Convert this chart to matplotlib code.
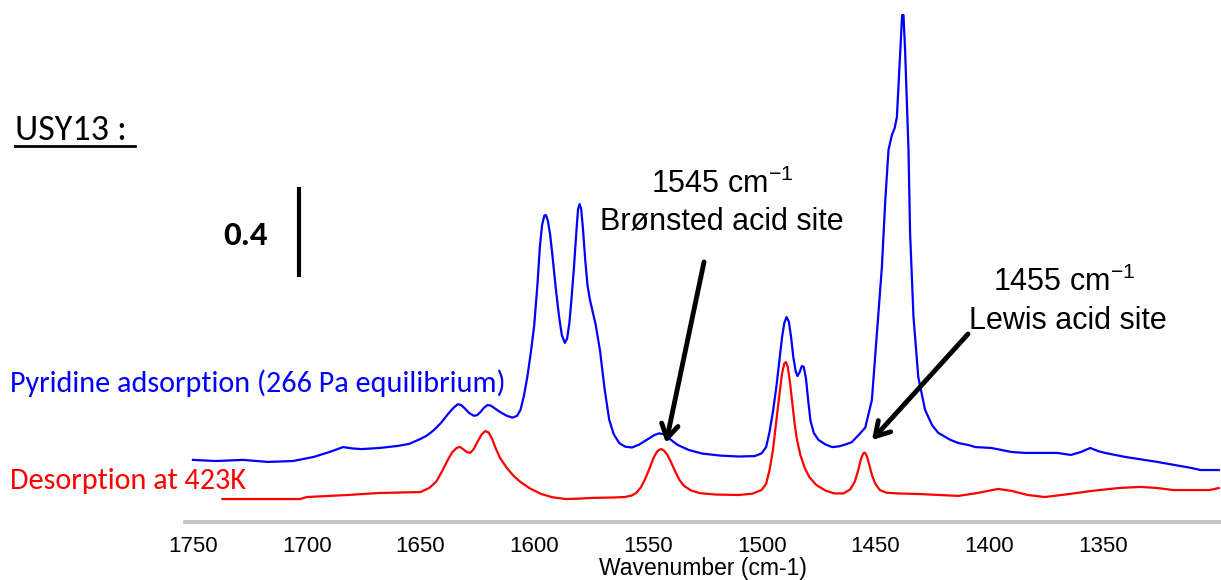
import matplotlib
matplotlib.use("Agg")
import matplotlib.pyplot as plt
from matplotlib.lines import Line2D
from matplotlib.ticker import MultipleLocator
from matplotlib import font_manager

# ---------------- data: (wavenumber cm-1, absorbance) ----------------
blue_spectrum = [
    (1750, 0.276), (1740, 0.271), (1728, 0.276), (1717, 0.267), (1706, 0.271), (1697, 0.289),
    (1690, 0.311), (1684, 0.333), (1680, 0.327), (1676, 0.324), (1668, 0.329), (1660, 0.338),
    (1655, 0.347), (1650, 0.369), (1647, 0.385), (1644, 0.409), (1641, 0.440), (1638, 0.478),
    (1635.5, 0.507), (1633.5, 0.524), (1632, 0.519), (1630.5, 0.505), (1628.5, 0.484),
    (1626.5, 0.472), (1625, 0.475), (1623.5, 0.490), (1622, 0.508), (1620.5, 0.520),
    (1619, 0.517), (1617, 0.503), (1615, 0.489), (1612, 0.472), (1609.5, 0.464),
    (1607.5, 0.472), (1606, 0.498), (1604.5, 0.560), (1603, 0.644), (1601.5, 0.750),
    (1600, 0.870), (1598.5, 1.060), (1597.5, 1.220), (1596.5, 1.320), (1595.5, 1.362),
    (1594.8, 1.364), (1594, 1.340), (1593, 1.280), (1592, 1.190), (1590.5, 1.040),
    (1589, 0.910), (1587.8, 0.830), (1586.5, 0.796), (1585.5, 0.815), (1584.5, 0.884),
    (1583.5, 1.000), (1582.5, 1.130), (1581.5, 1.280), (1580.7, 1.390), (1580, 1.413),
    (1579.3, 1.390), (1578.5, 1.300), (1577.5, 1.160), (1576.5, 1.050), (1575.5, 0.990),
    (1574.5, 0.945), (1573, 0.880), (1571, 0.760), (1569, 0.590), (1567, 0.455),
    (1565, 0.390), (1562.5, 0.350), (1560, 0.335), (1557, 0.331), (1554, 0.343),
    (1550, 0.368), (1547, 0.387), (1545, 0.394), (1543, 0.390), (1540.5, 0.370),
    (1537, 0.343), (1532, 0.320), (1526, 0.304), (1518, 0.295), (1510, 0.291),
    (1503, 0.293), (1500, 0.305), (1498, 0.333), (1496.5, 0.400), (1495, 0.490),
    (1493.5, 0.600), (1492, 0.730), (1491, 0.820), (1490, 0.885), (1489, 0.911),
    (1488, 0.890), (1487, 0.820), (1486, 0.730), (1485, 0.670), (1484.2, 0.649),
    (1483.3, 0.665), (1482.3, 0.693), (1481.5, 0.690), (1480.5, 0.640), (1479.5, 0.540),
    (1478.5, 0.450), (1477, 0.395), (1475, 0.365), (1472, 0.345), (1469, 0.333),
    (1466, 0.336), (1463, 0.345), (1460.3, 0.355), (1457, 0.390), (1454.4, 0.420),
    (1451.5, 0.542), (1449.3, 0.840), (1447.1, 1.133), (1445.6, 1.431), (1444.2, 1.653),
    (1442.7, 1.720), (1441.5, 1.750), (1440.5, 1.800), (1439, 2.098), (1438.2, 2.253),
    (1437.6, 2.253), (1436.9, 2.098), (1435.4, 1.653), (1434.7, 1.284), (1433.2, 0.911),
    (1431.1, 0.644), (1428.1, 0.498), (1425, 0.430), (1422.3, 0.396), (1417, 0.365),
    (1413.5, 0.351), (1409, 0.342), (1406, 0.333), (1399, 0.329), (1390, 0.311),
    (1384, 0.307), (1370, 0.307), (1364, 0.298), (1359.6, 0.311), (1355.5, 0.329),
    (1352, 0.315), (1349, 0.307), (1340, 0.289), (1326, 0.267), (1311, 0.240),
    (1307, 0.231), (1299, 0.231),
]
red_spectrum = [
    (1737, 0.102), (1703, 0.102), (1700, 0.111), (1682, 0.120), (1668, 0.129), (1650, 0.133),
    (1646, 0.152), (1643, 0.180), (1640.5, 0.225), (1638, 0.275), (1636, 0.310),
    (1634, 0.330), (1632.5, 0.333), (1631, 0.322), (1629.5, 0.310), (1628, 0.308),
    (1626.5, 0.325), (1625, 0.355), (1623, 0.390), (1621.5, 0.404), (1620, 0.398),
    (1618.5, 0.370), (1617, 0.330), (1615, 0.285), (1612, 0.240), (1609, 0.205),
    (1606, 0.178), (1602, 0.150), (1597, 0.125), (1592, 0.110), (1586, 0.102),
    (1580, 0.104), (1575, 0.107), (1565, 0.109), (1560, 0.111), (1557, 0.118),
    (1555, 0.130), (1553, 0.155), (1551, 0.195), (1549, 0.245), (1547.5, 0.285),
    (1546, 0.312), (1545, 0.321), (1544, 0.324), (1543, 0.318), (1541.5, 0.300),
    (1540, 0.270), (1538, 0.225), (1536, 0.185), (1534, 0.160), (1531, 0.140),
    (1527, 0.128), (1520, 0.122), (1510, 0.120), (1504, 0.126), (1500, 0.142),
    (1498, 0.170), (1496.5, 0.230), (1495, 0.320), (1493.5, 0.450), (1492, 0.580),
    (1491, 0.660), (1490, 0.705), (1489.3, 0.711), (1488.5, 0.690), (1487.5, 0.620),
    (1486.5, 0.530), (1485.5, 0.440), (1484.5, 0.370), (1483, 0.300), (1481, 0.240),
    (1479, 0.200), (1476, 0.165), (1472, 0.140), (1468, 0.127), (1464, 0.127),
    (1461, 0.145), (1459, 0.180), (1457.5, 0.230), (1456.3, 0.280), (1455.3, 0.305),
    (1454.6, 0.308), (1453.8, 0.295), (1452.8, 0.260), (1451.5, 0.210), (1450, 0.170),
    (1448, 0.142), (1445, 0.130), (1440, 0.127), (1430, 0.124), (1413.5, 0.116),
    (1405, 0.129), (1396, 0.147), (1390, 0.138), (1383, 0.120), (1375.5, 0.111),
    (1365, 0.124), (1355, 0.138), (1343, 0.151), (1333.5, 0.156), (1326, 0.151),
    (1319, 0.142), (1303, 0.142), (1299, 0.151),
]

major_ticks = [1750, 1700, 1650, 1600, 1550, 1500, 1450, 1400, 1350]
x_label = "Wavenumber (cm-1)"
blue_label = "Pyridine adsorption (266 Pa equilibrium)"
red_label = "Desorption at 423K"
title_text = "USY13 :"
scale_value = 0.4
bronsted_wn = 1545
lewis_wn = 1455

# ---------------- fonts ----------------
avail = {f.name for f in font_manager.fontManager.ttflist}
calibri_like = [f for f in ["Carlito", "Lato", "Open Sans"] if f in avail] + ["DejaVu Sans"]
arial = [f for f in ["Liberation Sans", "Arial"] if f in avail] + ["DejaVu Sans"]
plt.rcParams['font.family'] = arial
plt.rcParams['mathtext.fontset'] = 'custom'
plt.rcParams['mathtext.rm'] = arial[0]

W, H = 1221, 580
fig = plt.figure(figsize=(W / 100, H / 100), dpi=100)
ax = fig.add_axes([185 / W, 1 - 522 / H, 1 - 185 / W, 522 / H])

bw, ba = zip(*blue_spectrum)
rw, ra = zip(*red_spectrum)
ax.plot(bw, ba, color='#0000ff', lw=1.6, solid_joinstyle='round')
ax.plot(rw, ra, color='#ff0000', lw=1.6, solid_joinstyle='round')

ax.set_xlim(1753.5, 1298)
ax.set_ylim(0, 522 / 225)
for s in ['top', 'right', 'left']:
    ax.spines[s].set_visible(False)
ax.spines['bottom'].set_color('#c4c4c4')
ax.spines['bottom'].set_linewidth(2.8)
ax.set_yticks([])
ax.set_xticks(major_ticks)
ax.xaxis.set_minor_locator(MultipleLocator(10))
ax.tick_params(axis='x', which='major', direction='in', length=1.5, width=1.8, color='#222222',
               labelsize=16, pad=10)
ax.tick_params(axis='x', which='minor', direction='in', length=1.2, width=1.3, color='#333333')
ax.set_xlabel(x_label, fontsize=16.5, labelpad=0)

def fx(px):
    return px / W

def fy(py):
    return 1 - py / H

# title with underline
fig.text(fx(15), fy(130), title_text, family=calibri_like, fontsize=26, va='center', ha='left')
fig.add_artist(Line2D([fx(15), fx(135)], [fy(146), fy(146)], color='black', lw=2))

# scale bar (0.4 absorbance)
bar_x = 1750 - (298 - 192) / 2.2825
bar_y0 = (522 - 277) / 225
ax.plot([bar_x, bar_x], [bar_y0, bar_y0 + scale_value], color='black', lw=3,
        solid_capstyle='butt')
fig.text(fx(246), fy(236), f"{scale_value}", family=calibri_like, fontsize=25, fontweight='bold',
         va='center', ha='center')

# series labels
fig.text(fx(10), fy(383), blue_label, family=calibri_like, fontsize=21.7, color='#0000ff',
         va='center', ha='left')
fig.text(fx(10), fy(481), red_label, family=calibri_like, fontsize=21.7, color='#ff0000',
         va='center', ha='left')

# annotations
nsize = 22
fig.text(fx(722), fy(184), f"{bronsted_wn} cm$^{{-1}}$", fontsize=nsize, va='center', ha='center')
fig.text(fx(722), fy(222), "Brønsted acid site", fontsize=nsize, va='center', ha='center')
fig.text(fx(1064), fy(282), f"{lewis_wn} cm$^{{-1}}$", fontsize=nsize, va='center', ha='center')
fig.text(fx(1068), fy(321), "Lewis acid site", fontsize=nsize, va='center', ha='center')

arrow_kw = dict(arrowstyle='->,head_length=1.0,head_width=0.6', lw=3.5, color='black',
                shrinkA=0, shrinkB=0)
ax.annotate("", xy=(fx(666), fy(443)), xycoords='figure fraction',
            xytext=(fx(704), fy(262)), textcoords='figure fraction', arrowprops=arrow_kw)
ax.annotate("", xy=(fx(872), fy(440)), xycoords='figure fraction',
            xytext=(fx(968), fy(334)), textcoords='figure fraction', arrowprops=arrow_kw)

fig.savefig("out.png", dpi=100)
